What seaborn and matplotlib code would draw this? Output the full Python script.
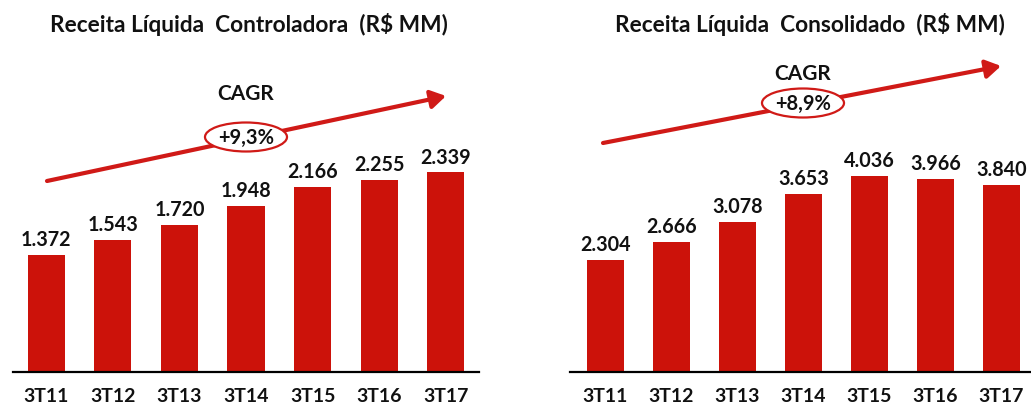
import matplotlib
matplotlib.use("Agg")
import matplotlib.pyplot as plt
import seaborn as sns
import pandas as pd
from matplotlib.patches import Ellipse, FancyArrowPatch

# ---- data ----
quarters = ["3T11", "3T12", "3T13", "3T14", "3T15", "3T16", "3T17"]
controladora = [1372, 1543, 1720, 1948, 2166, 2255, 2339]
consolidado = [2304, 2666, 3078, 3653, 4036, 3966, 3840]
titles = ["Receita Líquida  Controladora  (R$ MM)", "Receita Líquida  Consolidado  (R$ MM)"]
cagr_labels = ["+9,3%", "+8,9%"]

sns.set_theme(style="white")
plt.rcParams["font.family"] = ["Lato", "DejaVu Sans"]

W, H = 1031, 406
fig = plt.figure(figsize=(W / 100, H / 100), dpi=100)
BAR = "#CC120A"
ARROW = "#D01A17"


def fx(x):
    return x / W


def fy(y):
    return 1 - y / H


def panel(left_px, right_px, xlim, ymax, values, title, title_x, cagr,
          arrow_start, arrow_end, ell_c, cagr_y):
    ax = fig.add_axes([fx(left_px), fy(373), (right_px - left_px) / W, 373 / H])
    df = pd.DataFrame({"q": quarters, "v": values})
    sns.barplot(data=df, x="q", y="v", color=BAR, saturation=1, width=0.56,
                ax=ax, edgecolor="none")
    ax.set_xlim(*xlim)
    ax.set_ylim(0, ymax)
    for i, v in enumerate(values):
        ax.annotate(f"{v:,}".replace(",", "."), (i, v), xytext=(0, 11.5),
                    textcoords="offset points", ha="center", va="center",
                    fontsize=14.2, fontweight="bold", color="#111111")
    ax.set_xlabel("")
    ax.set_ylabel("")
    ax.set_yticks([])
    ax.tick_params(axis="x", length=0, pad=11)
    for lab in ax.get_xticklabels():
        lab.set_fontweight("bold")
        lab.set_fontsize(14)
        lab.set_color("#111111")
    for s in ["left", "right", "top"]:
        ax.spines[s].set_visible(False)
    ax.spines["bottom"].set_color("black")
    ax.spines["bottom"].set_linewidth(1.6)
    ax.patch.set_alpha(0)

    fig.text(fx(title_x), fy(25), title, ha="center", va="center",
             fontsize=16.3, fontweight="bold", color="#111111")
    arr = FancyArrowPatch((fx(arrow_start[0]), fy(arrow_start[1])),
                          (fx(arrow_end[0]), fy(arrow_end[1])),
                          transform=fig.transFigure, arrowstyle="-|>,head_length=9,head_width=5.5",
                          color=ARROW, lw=3, mutation_scale=1, shrinkA=0, shrinkB=0)
    fig.add_artist(arr)
    ell = Ellipse((fx(ell_c[0]), fy(ell_c[1])), 82 / W, 29 / H,
                  transform=fig.transFigure, facecolor="white",
                  edgecolor=ARROW, lw=1.6, zorder=5)
    fig.add_artist(ell)
    fig.text(fx(ell_c[0]), fy(ell_c[1]), cagr, ha="center", va="center",
             fontsize=14.5, fontweight="bold", color="#111111", zorder=6)
    fig.text(fx(ell_c[0]), fy(cagr_y), "CAGR", ha="center", va="center",
             fontsize=15, fontweight="bold", color="#111111")
    return ax


panel(13, 479, (-0.5, 6.5), 373 / 0.0853, controladora, titles[0], 249, cagr_labels[0],
      (47, 182), (446, 97), (246, 138), 94.5)
panel(570, 1031, (-0.538, 6.447), 373 / 0.0486, consolidado, titles[1], 810, cagr_labels[1],
      (603, 144), (1001, 67), (803, 104), 73.5)

fig.savefig("out.png", dpi=100)
